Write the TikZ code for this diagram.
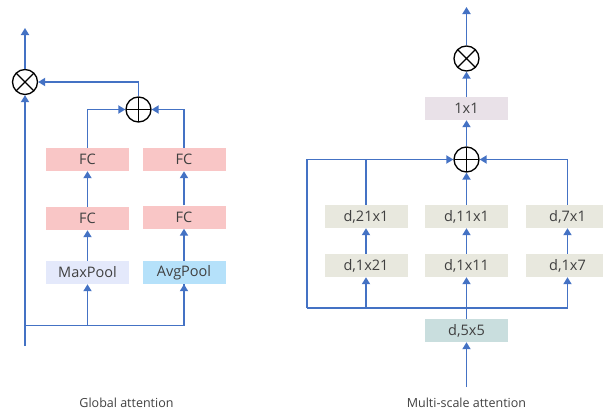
\documentclass[tikz,border=0pt]{standalone}
\usepackage{fontspec}
\setmainfont{Open Sans}
\usetikzlibrary{arrows.meta}
\definecolor{flow}{HTML}{4472C4}
\definecolor{txt}{HTML}{404040}
\definecolor{fcfill}{HTML}{F9C6C6}
\definecolor{maxfill}{HTML}{E4E9FB}
\definecolor{avgfill}{HTML}{B5E1FA}
\definecolor{dwfill}{HTML}{E8E8DE}
\definecolor{dfivefill}{HTML}{C9DEDE}
\definecolor{onefill}{HTML}{E9E1E8}
\tikzset{
  block/.style={minimum width=83pt, minimum height=23pt, inner sep=0pt,
    text=txt, font=\fontsize{14.5}{16}\selectfont},
  opcircle/.style={circle, draw=black, line width=1.3pt, fill=white,
    minimum size=25pt, inner sep=0pt},
  oplus/.style={opcircle, path picture={
    \draw[line width=1.3pt] (path picture bounding box.north) -- (path picture bounding box.south)
      (path picture bounding box.west) -- (path picture bounding box.east);}},
  otimes/.style={opcircle, path picture={
    \draw[line width=1.3pt] (path picture bounding box.north west) -- (path picture bounding box.south east)
      (path picture bounding box.north east) -- (path picture bounding box.south west);}},
  wire/.style={draw=flow, line width=1.7pt},
  arr/.style={wire, -{Triangle[width=8pt,length=7pt]}},
  caption/.style={text=txt, font=\fontsize{12.5}{14}\selectfont},
}
\begin{document}
\begin{tikzpicture}[x=1pt,y=-1pt]
\useasboundingbox (0,0) rectangle (603,415);

% ---------- Global attention ----------
\node[otimes] (gmul) at (25,82) {};
\node[oplus]  (gadd) at (138.5,109.5) {};
\node[block, fill=fcfill] (fcA1) at (87.5,159.5) {FC};
\node[block, fill=fcfill] (fcB1) at (184,159.5) {FC};
\node[block, fill=fcfill] (fcA2) at (87.5,218.5) {FC};
\node[block, fill=fcfill] (fcB2) at (184,217) {FC};
\node[block, fill=maxfill] (maxp) at (87.5,272.5) {MaxPool};
\node[block, fill=avgfill] (avgp) at (184,272.5) {AvgPool};
\coordinate (gin) at (25,346);
\coordinate (gsplit) at (25,325.5);
\coordinate (gout) at (25,28);

\draw[arr] (gin) -- (gmul.south);
\draw[arr] (gmul.north) -- (gout);
\draw[wire] (gsplit) -| (avgp.south);
\draw[arr] (gsplit -| maxp.south) -- (maxp.south);
\draw[arr] (gsplit -| avgp.south) -- (avgp.south);
\draw[arr] (maxp) -- (fcA2);
\draw[arr] (avgp) -- (fcB2);
\draw[arr] (fcA2) -- (fcA1);
\draw[arr] (fcB2) -- (fcB1);
\draw[arr] (fcA1.north) |- (gadd.west);
\draw[arr] (fcB1.north) |- (gadd.east);
\draw[arr] (gadd.north) |- (gmul.east);

\node[caption] (gcap) at (126.5,402.5) {Global attention};

% ---------- Multi-scale attention ----------
\node[otimes] (mmul) at (466.5,58.5) {};
\node[block, fill=onefill] (pw) at (466.5,108.5) {1x1};
\node[oplus]  (madd) at (466.5,159.5) {};
\node[block, fill=dwfill] (v21) at (366,216.5) {d,21x1};
\node[block, fill=dwfill] (v11) at (466.5,216.5) {d,11x1};
\node[block, fill=dwfill] (v7)  at (567.5,216.5) {d,7x1};
\node[block, fill=dwfill] (h21) at (366,265.5) {d,1x21};
\node[block, fill=dwfill] (h11) at (466.5,265.5) {d,1x11};
\node[block, fill=dwfill] (h7)  at (567.5,265.5) {d,1x7};
\node[block, fill=dfivefill] (d5) at (466.5,330.5) {d,5x5};
\coordinate (min) at (466.5,387);
\coordinate (mout) at (466.5,7);
\coordinate (msplit) at (307,307.7);

\draw[arr] (min) -- (d5.south);
\draw[arr] (d5.north) -- (h11.south);
\draw[wire] (msplit) -- (msplit -| h7.south);
\draw[arr] (msplit -| h21.south) -- (h21.south);
\draw[arr] (msplit -| h7.south) -- (h7.south);
\draw[arr] (h21) -- (v21);
\draw[arr] (h11) -- (v11);
\draw[arr] (h7) -- (v7);
\draw[arr] (msplit) |- (madd.west);
\draw[wire] (v21.north) -- (v21.north |- madd.west);
\draw[arr] (v11) -- (madd.south);
\draw[arr] (v7.north) |- (madd.east);
\draw[arr] (madd.north) -- (pw.south);
\draw[arr] (pw.north) -- (mmul.south);
\draw[arr] (mmul.north) -- (mout);

\node[caption] (mcap) at (466.5,402.5) {Multi-scale attention};
\end{tikzpicture}
\end{document}
